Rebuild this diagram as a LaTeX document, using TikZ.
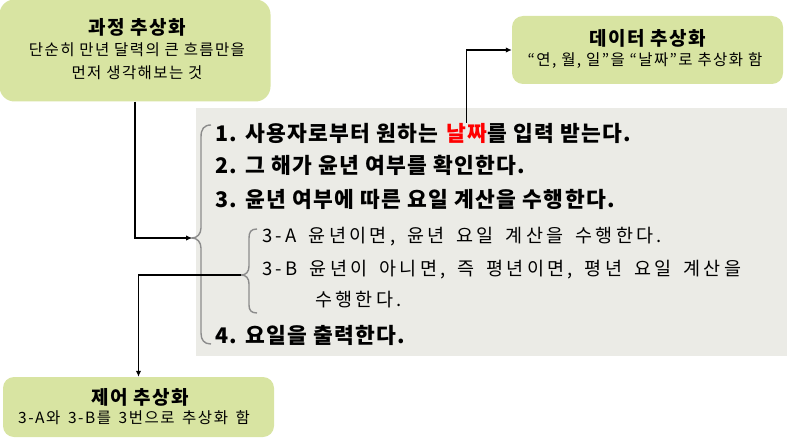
\documentclass[tikz,border=0pt]{standalone}
\usepackage{fontspec}
\setmainfont{Noto Sans CJK KR}
\newfontfamily\subfont{Noto Sans CJK KR}[LetterSpace=18,WordSpace=1.6]
\newfontfamily\smallfont{Noto Sans CJK KR}[LetterSpace=10,WordSpace=1.5]
\usetikzlibrary{arrows.meta}
\definecolor{boxgreen}{RGB}{216,228,162}
\definecolor{panelgray}{RGB}{235,235,230}
\definecolor{bracegray}{RGB}{140,140,140}
\begin{document}
\begin{tikzpicture}[x=1pt,y=-1pt,
  gbox/.style={fill=boxgreen, draw=none, rounded corners=12pt, inner sep=0pt},
  panel/.style={fill=panelgray, draw=none, inner sep=0pt},
  txt/.style={inner sep=0pt, font=\fontsize{15.5}{18}\selectfont\addfontfeature{LetterSpace=9}},
  ttl/.style={inner sep=0pt, font=\fontsize{19}{21}\bfseries\selectfont\addfontfeature{LetterSpace=8}},
  item/.style={inner sep=0pt, anchor=west, font=\fontsize{21.5}{24}\bfseries\selectfont\addfontfeature{LetterSpace=6}},
  sub/.style={inner sep=0pt, anchor=west, font=\subfont\fontsize{18.5}{21}\selectfont},
  brc/.style={draw=bracegray, line width=1.4pt},
  arr/.style={draw=black, line width=1.3pt, -{Latex[length=6pt,width=5.5pt]}}
]
\useasboundingbox (0,0) rectangle (789,441);
% boxes
\node[gbox, minimum width=271pt, minimum height=102pt, rounded corners=15pt] (b1) at (135,50.5) {};
\node[gbox, minimum width=271pt, minimum height=68pt, rounded corners=11pt] (b2) at (647.5,50) {};
\node[gbox, minimum width=271pt, minimum height=60pt, rounded corners=11pt] (b3) at (138.5,407) {};
\node[panel, minimum width=591pt, minimum height=248pt] (pn) at (491.5,232) {};
% box texts
\node[ttl] (t1a) at (137,27) {과정 추상화};
\node[txt] (t1b) at (137,50) {단순히 만년 달력의 큰 흐름만을};
\node[txt] (t1c) at (137,73) {먼저 생각해보는 것};
\node[ttl] (t2a) at (648,38) {데이터 추상화};
\node[txt] (t2b) at (645,61) {“연, 월, 일”을 “날짜”로 추상화 함};
\node[ttl] (t3a) at (140,397) {제어 추상화};
\node[inner sep=0pt, font=\smallfont\fontsize{15.5}{18}\selectfont] (t3b) at (134,418) {3-A와 3-B를 3번으로 추상화 함};
% list
\node[item] (l1a) at (215,133) {1. 사용자로부터 원하는};
\node[item, anchor=base west, text=red] (l1b) at ([xshift=7pt]l1a.base east) {날짜};
\node[item, anchor=base west] (l1c) at (l1b.base east) {를 입력 받는다.};
\node[item] (l2) at (215,165) {2. 그 해가 윤년 여부를 확인한다.};
\node[item] (l3) at (215,199) {3. 윤년 여부에 따른 요일 계산을 수행한다.};
\node[sub] (l3a) at (262,237) {3-A 윤년이면, 윤년 요일 계산을 수행한다.};
\node[sub] (l3b) at (262,270) {3-B 윤년이 아니면, 즉 평년이면, 평년 요일 계산을};
\node[sub] (l3c) at (315,300) {수행한다.};
\node[item] (l4) at (215,335) {4. 요일을 출력한다.};
% braces
\coordinate (bigtip) at (192,238);
\coordinate (smalltip) at (241,275);
\draw[brc] (211,125) .. controls (204,125) and (201,129) .. (201,137) -- (201,228)
  .. controls (201,234) and (197,238) .. (bigtip)
  .. controls (197,238) and (201,242) .. (201,248) -- (201,333)
  .. controls (201,340) and (204,344) .. (211,344);
\draw[brc] (257,229) .. controls (251,229) and (249,232) .. (249,238) -- (249,266)
  .. controls (249,272) and (246,275) .. (smalltip)
  .. controls (246,275) and (249,278) .. (249,284) -- (249,305)
  .. controls (249,310) and (251,313) .. (257,313);
% connectors
\draw[arr] (b1.south) |- (bigtip);
\draw[arr] (smalltip) -| (b3.north);
\draw[arr] (l1b.north) |- (b2.west);
\end{tikzpicture}
\end{document}
